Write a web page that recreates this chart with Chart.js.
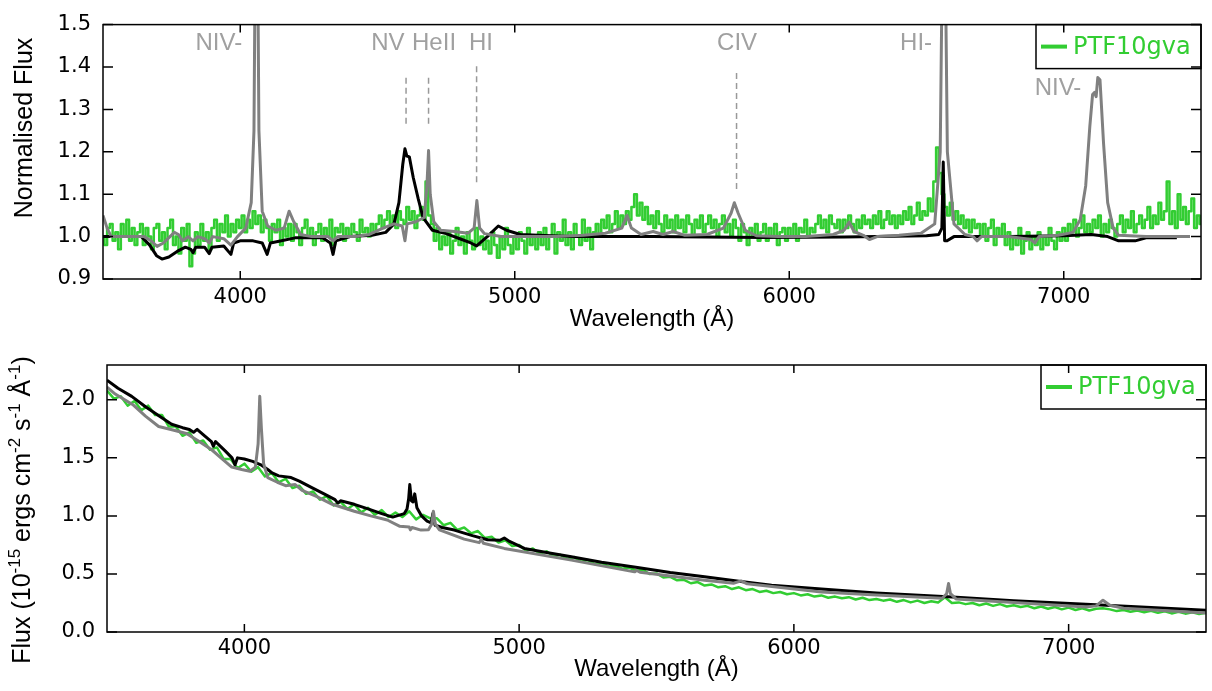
<!DOCTYPE html>
<html>
<head>
<meta charset="utf-8">
<script src="https://cdn.jsdelivr.net/npm/chart.js@4.4.1/dist/chart.umd.min.js"></script>
<style>
  html, body { margin: 0; padding: 0; background: #fff; }
  canvas { display: block; }
</style>
</head>
<body>
<canvas id="topChart" width="1212" height="340"></canvas>
<canvas id="bottomChart" width="1212" height="351"></canvas>
<script>
// ---- axis ticks ----
const xTicks = [4000, 5000, 6000, 7000];
const normTicks = [0.9, 1.0, 1.1, 1.2, 1.3, 1.4, 1.5];
const fluxTicks = [0.0, 0.5, 1.0, 1.5, 2.0];

// ---- PTF10gva, normalised (10 A bins from 3500 A) ----
const normFlux = [
  1.00, 0.98, 1.02, 1.03, 0.99, 1.01, 0.97, 1.03, 1.00, 1.04,
  0.99, 1.02, 0.98, 1.01, 1.03, 0.98, 1.02, 1.00, 0.97, 1.02,
  1.03, 0.99, 1.01, 0.97, 1.02, 1.04, 0.98, 1.00, 0.96, 1.02,
  0.99, 1.03, 0.93, 0.96, 1.01, 0.98, 1.03, 0.99, 1.01, 0.97,
  1.02, 1.04, 0.99, 1.03, 1.01, 1.05, 1.00, 1.03, 1.01, 1.04,
  1.02, 1.05, 1.01, 1.04, 1.02, 1.06, 1.03, 1.05, 1.01, 1.04,
  1.02, 0.99, 1.03, 1.01, 1.04, 0.98, 1.02, 1.00, 1.03, 0.99,
  1.03, 1.01, 0.98, 1.02, 1.04, 1.00, 1.02, 0.98, 1.01, 1.03,
  0.99, 1.02, 1.00, 1.04, 0.98, 1.02, 1.01, 1.03, 0.99, 1.02,
  1.00, 1.03, 1.01, 0.99, 1.04, 1.01, 1.02, 1.00, 1.03, 1.01,
  1.03, 1.05, 1.02, 1.04, 1.06, 1.03, 1.05, 1.02, 1.06, 1.04,
  1.03, 1.07, 1.04, 1.06, 1.02, 1.05, 1.07, 1.04, 1.13, 1.05,
  1.03, 0.99, 1.02, 0.97, 1.00, 0.98, 1.01, 0.96, 0.99, 1.02,
  0.98, 1.00, 0.96, 1.01, 0.99, 0.97, 1.02, 0.98, 1.00, 0.97,
  0.99, 0.96, 1.01, 0.98, 0.95, 1.00, 0.97, 1.02, 0.98, 0.96,
  1.00, 0.97, 1.01, 0.99, 0.96, 1.02, 0.98, 1.00, 0.97, 1.01,
  0.98, 1.02, 0.97, 1.00, 1.03, 0.96, 1.01, 0.99, 1.04, 0.98,
  1.01, 0.97, 1.03, 1.00, 0.98, 1.04, 0.99, 1.02, 0.97, 1.01,
  1.03, 1.00, 1.04, 1.02, 1.05, 1.01, 1.03, 1.06, 1.02, 1.05,
  1.03, 1.06, 1.04, 1.07, 1.10, 1.05, 1.08, 1.04, 1.07, 1.03,
  1.05, 1.02, 1.06, 1.03, 1.01, 1.05, 1.02, 1.04, 1.01, 1.05,
  1.02, 1.04, 1.01, 1.05, 1.03, 1.00, 1.04, 1.02, 1.05, 1.01,
  1.03, 1.05, 1.02, 1.04, 1.00, 1.03, 1.05, 1.01, 1.03, 1.00,
  1.04, 1.02, 0.99, 1.03, 1.01, 0.98, 1.02, 1.00, 1.03, 0.99,
  1.01, 1.03, 0.99, 1.02, 1.00, 1.03, 0.98, 1.01, 1.02, 0.99,
  1.02, 1.00, 1.03, 0.99, 1.02, 1.01, 1.04, 1.00, 1.02, 1.01,
  1.03, 1.05, 1.02, 1.04, 1.01, 1.05, 1.03, 1.02, 1.04, 1.01,
  1.04, 1.02, 1.05, 1.03, 1.01, 1.04, 1.02, 1.05, 1.03, 1.04,
  1.02, 1.05, 1.03, 1.06, 1.02, 1.04, 1.06, 1.03, 1.05, 1.02,
  1.05, 1.03, 1.06, 1.04, 1.07, 1.03, 1.05, 1.08, 1.04, 1.06,
  1.05, 1.09, 1.06, 1.13, 1.21, 1.15, 1.10, 1.07, 1.05, 1.08,
  1.04, 1.06, 1.03, 1.05, 1.02, 1.04, 1.01, 1.04, 1.02, 1.03,
  1.00, 1.03, 0.99, 1.02, 1.04, 0.98, 1.02, 1.00, 1.03, 0.98,
  1.01, 0.97, 1.00, 0.98, 1.02, 0.96, 0.99, 1.01, 0.97, 1.00,
  0.98, 1.01, 0.97, 1.00, 0.98, 1.02, 0.99, 0.97, 1.01, 0.99,
  1.02, 0.99, 1.03, 1.01, 1.04, 1.00, 1.02, 1.05, 1.01, 1.03,
  1.01, 1.04, 1.02, 1.05, 1.00, 1.03, 1.01, 1.04, 1.02, 1.00,
  1.03, 1.05, 1.01, 1.04, 1.02, 1.06, 1.01, 1.03, 1.05, 1.02,
  1.04, 1.07, 1.02, 1.05, 1.03, 1.08, 1.04, 1.06, 1.13, 1.03,
  1.06, 1.02, 1.10, 1.04, 1.07, 1.03, 1.06, 1.09, 1.02, 1.05,
  1.03
];
const normWave = normFlux.map((_, i) => 3500 + 10 * i);

// ---- models, normalised ----
const blackNormWave = [3500, 3640, 3670, 3695, 3715, 3740, 3770, 3800, 3820, 3828, 3838, 3870, 3887, 3897, 3940, 3966, 3976, 4000, 4047, 4080, 4098, 4110, 4150, 4200, 4300, 4328, 4338, 4348, 4400, 4480, 4530, 4560, 4578, 4592, 4600, 4607, 4616, 4630, 4648, 4666, 4700, 4750, 4800, 4840, 4861, 4900, 4940, 4970, 5020, 5200, 5500, 5900, 6200, 6500, 6545, 6556, 6561, 6566, 6575, 6600, 6800, 7000, 7100, 7160, 7200, 7260, 7300, 7412];
const blackNorm = [1.0, 1.0, 0.98, 0.955, 0.947, 0.952, 0.965, 0.975, 0.97, 0.962, 0.975, 0.975, 0.96, 0.975, 0.978, 0.958, 0.985, 0.99, 0.99, 0.985, 0.958, 0.985, 0.99, 0.997, 0.997, 0.985, 0.958, 0.99, 1.0, 1.003, 1.01, 1.03, 1.08, 1.17, 1.207, 1.19, 1.188, 1.14, 1.09, 1.045, 1.015, 1.007, 0.995, 0.985, 0.978, 1.0, 1.025, 1.015, 1.005, 1.0, 1.0, 0.998, 0.999, 1.002, 1.005, 1.02, 1.176, 0.99, 0.99, 1.0, 1.0, 1.002, 1.005, 1.0, 0.99, 0.99, 0.997, 0.997];

const grayNormWave = [3500, 3515, 3530, 3600, 3650, 3675, 3697, 3720, 3744, 3760, 3775, 3790, 3810, 3828, 3845, 3870, 3887, 3900, 3940, 3966, 3990, 4020, 4040, 4050, 4056, 4062, 4068, 4080, 4100, 4130, 4160, 4178, 4195, 4220, 4260, 4320, 4338, 4355, 4420, 4470, 4520, 4560, 4590, 4600, 4608, 4640, 4670, 4680, 4686, 4692, 4705, 4730, 4780, 4830, 4852, 4862, 4872, 4890, 4950, 5050, 5150, 5250, 5330, 5390, 5409, 5425, 5460, 5504, 5540, 5577, 5620, 5700, 5760, 5788, 5800, 5814, 5840, 5880, 5960, 6060, 6160, 6200, 6218, 6236, 6270, 6292, 6320, 6400, 6480, 6530, 6550, 6560, 6566, 6576, 6600, 6640, 6670, 6684, 6700, 6800, 6880, 6895, 6910, 6980, 7034, 7060, 7080, 7095, 7105, 7112, 7118, 7124, 7132, 7145, 7160, 7180, 7200, 7300, 7400, 7460];
const grayNorm = [1.05, 1.02, 1.0, 1.0, 1.0, 0.99, 0.977, 0.985, 1.0, 1.01, 1.005, 0.99, 1.0, 0.99, 1.0, 0.995, 0.985, 1.0, 0.995, 0.98, 1.0, 1.02, 1.08, 1.25, 1.8, 1.8, 1.25, 1.06, 1.025, 1.015, 1.02, 1.06, 1.035, 1.005, 1.0, 1.0, 0.99, 1.0, 1.0, 1.005, 1.02, 1.03, 1.025, 0.99, 1.03, 1.035, 1.045, 1.12, 1.203, 1.10, 1.035, 1.015, 1.012, 1.008, 1.02, 1.085, 1.02, 1.007, 1.0, 1.0, 1.0, 1.003, 1.008, 1.02, 1.05, 1.02, 1.005, 1.012, 1.005, 1.012, 1.003, 1.005, 1.02, 1.055, 1.08, 1.055, 1.015, 1.002, 1.0, 1.0, 1.005, 1.015, 1.034, 1.012, 1.003, 0.993, 1.0, 1.003, 1.008, 1.03, 1.2, 1.8, 1.8, 1.2, 1.03, 1.005, 1.0, 0.99, 1.0, 1.0, 0.993, 0.985, 1.0, 1.003, 1.01, 1.04, 1.12, 1.26, 1.335, 1.34, 1.33, 1.375, 1.37, 1.22, 1.08, 1.02, 1.003, 1.0, 1.0, 1.0];

// ---- line identifications ----
const lineLabels = ['NIV-', 'NV', 'HeII', 'HI', 'CIV', 'HI-', 'NIV-'];
const labelWave = [3922, 4538, 4706, 4877, 5810, 6462, 6979];
const labelLevel = [1.456, 1.456, 1.456, 1.456, 1.456, 1.456, 1.35];
const markWave = [4604, 4686, 4861, 5808];
const markLow = [1.266, 1.266, 1.128, 1.112];
const markHigh = [1.377, 1.377, 1.41, 1.39];

// ---- PTF10gva, flux (25 A bins from 3500 A) ----
const fluxObs = [
  2.08, 2.01, 2.03, 1.95, 1.99, 1.91, 1.95, 1.87,
  1.87, 1.77, 1.77, 1.69, 1.72, 1.63, 1.65, 1.57,
  1.59, 1.49, 1.49, 1.41, 1.45, 1.38, 1.42, 1.34,
  1.37, 1.29, 1.32, 1.24, 1.26, 1.19, 1.21, 1.14,
  1.17, 1.09, 1.12, 1.06, 1.10, 1.03, 1.07, 1.01,
  1.05, 0.99, 1.03, 0.99, 1.04, 0.97, 1.01, 0.98,
  0.98, 0.92, 0.94, 0.88, 0.90, 0.85, 0.87, 0.81,
  0.82, 0.77, 0.79, 0.74, 0.75, 0.70, 0.72, 0.675,
  0.695, 0.65, 0.665, 0.63, 0.645, 0.605, 0.62, 0.585,
  0.595, 0.565, 0.57, 0.545, 0.555, 0.53, 0.535, 0.50,
  0.505, 0.47, 0.475, 0.445, 0.45, 0.42, 0.43, 0.40,
  0.41, 0.385, 0.395, 0.37, 0.385, 0.36, 0.37, 0.345,
  0.355, 0.335, 0.345, 0.325, 0.335, 0.315, 0.325, 0.305,
  0.315, 0.295, 0.305, 0.29, 0.30, 0.28, 0.295, 0.275,
  0.285, 0.27, 0.28, 0.26, 0.275, 0.255, 0.27, 0.25,
  0.265, 0.255, 0.30, 0.25, 0.255, 0.24, 0.25, 0.23,
  0.245, 0.225, 0.24, 0.22, 0.23, 0.215, 0.225, 0.205,
  0.22, 0.20, 0.215, 0.195, 0.21, 0.19, 0.205, 0.185,
  0.20, 0.205, 0.195, 0.18, 0.19, 0.175, 0.185, 0.17,
  0.183, 0.165, 0.178, 0.16, 0.175, 0.158, 0.17, 0.155,
  0.165
];
const fluxWave = fluxObs.map((_, i) => 3500 + 25 * i);

// ---- models, flux ----
const blackFluxWave = [3500, 3540, 3590, 3640, 3690, 3735, 3775, 3800, 3815, 3828, 3850, 3880, 3887, 3895, 3930, 3955, 3966, 3975, 4000, 4030, 4060, 4085, 4101, 4125, 4170, 4200, 4240, 4290, 4330, 4340, 4350, 4400, 4450, 4500, 4540, 4582, 4592, 4598, 4602, 4608, 4614, 4620, 4628, 4645, 4665, 4680, 4686, 4694, 4720, 4764, 4830, 4885, 4930, 4946, 4965, 5019, 5100, 5190, 5300, 5431, 5550, 5675, 5800, 5919, 6100, 6300, 6577, 6800, 7063, 7300, 7500];
const blackFlux = [2.17, 2.10, 2.03, 1.94, 1.86, 1.79, 1.76, 1.745, 1.72, 1.745, 1.70, 1.64, 1.60, 1.64, 1.56, 1.50, 1.44, 1.50, 1.49, 1.47, 1.44, 1.40, 1.37, 1.345, 1.33, 1.30, 1.25, 1.19, 1.14, 1.11, 1.13, 1.10, 1.06, 1.02, 0.99, 1.02, 1.06, 1.15, 1.27, 1.13, 1.12, 1.19, 1.07, 1.0, 0.955, 0.94, 1.02, 0.92, 0.90, 0.878, 0.83, 0.795, 0.79, 0.81, 0.78, 0.72, 0.685, 0.648, 0.60, 0.556, 0.513, 0.475, 0.438, 0.403, 0.37, 0.337, 0.302, 0.27, 0.239, 0.21, 0.188];

const grayFluxWave = [3500, 3530, 3593, 3640, 3688, 3740, 3789, 3830, 3881, 3920, 3954, 3990, 4020, 4040, 4050, 4056, 4062, 4070, 4085, 4120, 4150, 4185, 4210, 4260, 4320, 4400, 4460, 4520, 4566, 4600, 4604, 4610, 4643, 4670, 4682, 4688, 4695, 4710, 4800, 4855, 4862, 4870, 4946, 5190, 5420, 5428, 5440, 5675, 5780, 5808, 5830, 6100, 6300, 6540, 6556, 6563, 6570, 6590, 6800, 7063, 7100, 7125, 7150, 7200, 7500];
const grayFlux = [2.11, 2.05, 1.96, 1.86, 1.77, 1.74, 1.71, 1.65, 1.57, 1.49, 1.42, 1.40, 1.385, 1.42, 1.62, 2.03, 1.75, 1.45, 1.33, 1.29, 1.26, 1.27, 1.22, 1.17, 1.10, 1.04, 1.0, 0.965, 0.91, 0.905, 0.88, 0.90, 0.878, 0.88, 0.93, 1.04, 0.93, 0.88, 0.80, 0.77, 0.80, 0.765, 0.72, 0.619, 0.518, 0.53, 0.515, 0.446, 0.42, 0.44, 0.415, 0.345, 0.318, 0.29, 0.33, 0.418, 0.33, 0.285, 0.255, 0.216, 0.225, 0.274, 0.23, 0.205, 0.164];

// ---- styling ----
const GREEN = '#32cd32';
const GRAY = '#808080';
const LABEL_GRAY = '#a0a0a0';
const SANS = '"Liberation Sans", Arial, sans-serif';
const TICKFONT = { family: '"DejaVu Sans"', size: 21 };

function pts(xs, ys) {
  return xs.map((x, i) => ({ x: x, y: ys[i] }));
}

// frame, inward ticks, legend, titles and line ids drawn on top of the data
function decor(cfg) {
  return {
    id: 'decor',
    afterDatasetsDraw(chart) {
      const ctx = chart.ctx, a = chart.chartArea;
      const xs = chart.scales.x, ys = chart.scales.y;
      ctx.save();

      if (cfg.labels) {
        ctx.fillStyle = LABEL_GRAY;
        ctx.font = '24px ' + SANS;
        ctx.textAlign = 'center';
        ctx.textBaseline = 'middle';
        lineLabels.forEach((t, i) => {
          ctx.fillText(t, xs.getPixelForValue(labelWave[i]), ys.getPixelForValue(labelLevel[i]));
        });
      }

      // legend
      const lw = 165, lh = 44, lx = a.right - lw, ly = a.top;
      ctx.fillStyle = '#fff';
      ctx.fillRect(lx, ly, lw, lh);
      ctx.strokeStyle = '#000';
      ctx.lineWidth = 1.5;
      ctx.strokeRect(lx, ly, lw, lh);
      ctx.strokeStyle = GREEN;
      ctx.lineWidth = 4;
      ctx.beginPath();
      ctx.moveTo(lx + 5, ly + 22);
      ctx.lineTo(lx + 31, ly + 22);
      ctx.stroke();
      ctx.fillStyle = GREEN;
      ctx.font = '24px "DejaVu Sans"';
      ctx.textAlign = 'left';
      ctx.textBaseline = 'middle';
      ctx.fillText('PTF10gva', lx + 37, ly + 23);

      // frame + ticks
      ctx.strokeStyle = '#000';
      ctx.lineWidth = 1.5;
      ctx.strokeRect(a.left, a.top, a.right - a.left, a.bottom - a.top);
      ctx.beginPath();
      xTicks.forEach(v => {
        const p = xs.getPixelForValue(v);
        ctx.moveTo(p, a.bottom); ctx.lineTo(p, a.bottom - 8);
        ctx.moveTo(p, a.top); ctx.lineTo(p, a.top + 8);
      });
      cfg.yTicks.forEach(v => {
        const p = ys.getPixelForValue(v);
        ctx.moveTo(a.left, p); ctx.lineTo(a.left + 10, p);
        ctx.moveTo(a.right, p); ctx.lineTo(a.right - 10, p);
      });
      ctx.stroke();

      // x title
      ctx.fillStyle = '#000';
      ctx.font = '24px ' + SANS;
      ctx.textAlign = 'center';
      ctx.textBaseline = 'middle';
      ctx.fillText('Wavelength (Å)', (a.left + a.right) / 2, a.bottom + cfg.xTitleGap);

      // y title (rotated, with superscripts)
      ctx.translate(cfg.yTitleX, cfg.yTitleY);
      ctx.rotate(-Math.PI / 2);
      ctx.textBaseline = 'alphabetic';
      ctx.textAlign = 'left';
      let total = 0;
      cfg.yTitle.forEach(p => {
        ctx.font = (p[1] ? '17px ' : '25px ') + SANS;
        total += ctx.measureText(p[0]).width;
      });
      let cx = -total / 2;
      cfg.yTitle.forEach(p => {
        ctx.font = (p[1] ? '17px ' : '25px ') + SANS;
        ctx.fillText(p[0], cx, p[1] ? -10 : 0);
        cx += ctx.measureText(p[0]).width;
      });
      ctx.restore();
    }
  };
}

function baseOptions(o) {
  return {
    responsive: false,
    animation: false,
    events: [],
    layout: { padding: o.padding },
    elements: {
      point: { radius: 0 },
      line: { tension: 0, borderJoinStyle: 'round' }
    },
    plugins: { legend: { display: false }, tooltip: { enabled: false } },
    scales: {
      x: {
        type: 'linear',
        min: 3500,
        max: 7500,
        afterBuildTicks: s => { s.ticks = xTicks.map(v => ({ value: v })); },
        afterFit: s => { s.height = o.xHeight; },
        grid: { display: false, drawTicks: false },
        border: { display: false },
        ticks: { padding: o.xPad, color: '#000', font: TICKFONT, maxRotation: 0, autoSkip: false,
          callback: v => String(v) }
      },
      y: {
        type: 'linear',
        min: o.yMin,
        max: o.yMax,
        afterBuildTicks: s => { s.ticks = o.yTicks.map(v => ({ value: v })); },
        afterFit: s => { s.width = o.yWidth; },
        grid: { display: false, drawTicks: false },
        border: { display: false },
        ticks: {
          padding: 12, color: '#000', font: TICKFONT, autoSkip: false,
          callback: v => Number(v).toFixed(1)
        }
      }
    }
  };
}

new Chart(document.getElementById('topChart'), {
  type: 'line',
  data: {
    datasets: [
      { label: 'PTF10gva', data: pts(normWave, normFlux), borderColor: GREEN, borderWidth: 2.5, stepped: 'middle', order: 3 },
      { label: 'black model', data: pts(blackNormWave, blackNorm), borderColor: '#000', borderWidth: 3, order: 2 },
      { label: 'gray model', data: pts(grayNormWave, grayNorm), borderColor: GRAY, borderWidth: 3, order: 1 }
    ].concat(markWave.map((w, i) => ({
      label: 'mark ' + i,
      data: [{ x: w, y: markLow[i] }, { x: w, y: markHigh[i] }],
      borderColor: '#999', borderWidth: 1.5, borderDash: [6, 4], order: 0
    })))
  },
  options: baseOptions({
    padding: { top: 13, right: 11, left: 0, bottom: 0 },
    xHeight: 61, xPad: 6, yWidth: 103, yMin: 0.9, yMax: 1.5, yTicks: normTicks
  }),
  plugins: [decor({
    labels: true, yTicks: normTicks, xTitleGap: 40,
    yTitle: [['Normalised Flux', 0]], yTitleX: 32, yTitleY: 128
  })]
});

new Chart(document.getElementById('bottomChart'), {
  type: 'line',
  data: {
    datasets: [
      { label: 'PTF10gva', data: pts(fluxWave, fluxObs), borderColor: GREEN, borderWidth: 2.5, order: 3 },
      { label: 'black model', data: pts(blackFluxWave, blackFlux), borderColor: '#000', borderWidth: 3, order: 2 },
      { label: 'gray model', data: pts(grayFluxWave, grayFlux), borderColor: GRAY, borderWidth: 3, order: 1 }
    ]
  },
  options: baseOptions({
    padding: { top: 25, right: 6, left: 0, bottom: 0 },
    xHeight: 59, xPad: 4, yWidth: 107, yMin: 0, yMax: 2.3, yTicks: fluxTicks
  }),
  plugins: [decor({
    labels: false, yTicks: fluxTicks, xTitleGap: 37,
    yTitle: [['Flux (10', 0], ['-15', 1], [' ergs cm', 0], ['-2', 1], [' s', 0], ['-1', 1], [' Å', 0], ['-1', 1], [')', 0]],
    yTitleX: 30, yTitleY: 170
  })]
});
</script>
</body>
</html>
